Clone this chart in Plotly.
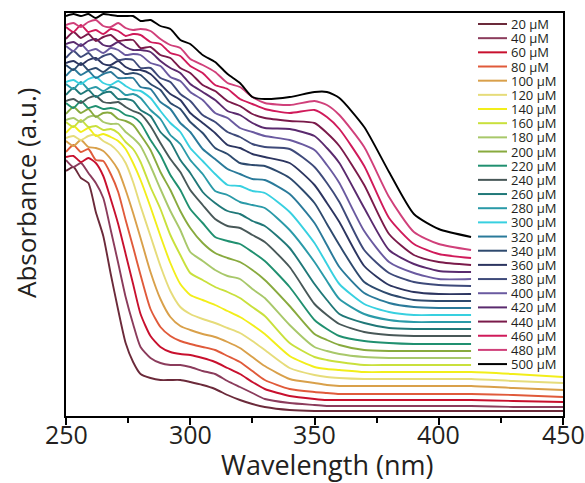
import plotly.graph_objects as go

# Wavelength sampling (nm) shared by all spectra; the upper spectra stop at 413 nm
wavelength_nm = [250, 253, 256, 259, 262, 265, 268, 271, 274, 277, 280, 284, 288, 292, 296,
                 300, 305, 310, 315, 320, 325, 330, 340, 350, 355, 360, 370, 380, 390,
                 400, 413, 430, 450]

# Offset absorbance spectra (a.u.), one list per concentration
abs_20uM = [2.43, 2.47, 2.36, 2.31, 2.02, 1.78, 1.40, 1.04, 0.71, 0.52, 0.40, 0.36, 0.34, 0.34, 0.34, 0.32, 0.29, 0.25, 0.19, 0.14, 0.10, 0.07, 0.04, 0.03, 0.03, 0.03, 0.03, 0.03, 0.03, 0.03, 0.03, 0.03, 0.03]
abs_40uM = [2.54, 2.47, 2.51, 2.41, 2.31, 2.16, 1.84, 1.51, 1.17, 0.90, 0.67, 0.56, 0.51, 0.49, 0.49, 0.47, 0.43, 0.40, 0.33, 0.27, 0.21, 0.15, 0.11, 0.09, 0.08, 0.08, 0.08, 0.08, 0.08, 0.08, 0.08, 0.07, 0.07]
abs_60uM = [2.57, 2.58, 2.52, 2.56, 2.51, 2.38, 2.15, 1.90, 1.60, 1.30, 1.00, 0.78, 0.67, 0.62, 0.60, 0.59, 0.56, 0.52, 0.46, 0.40, 0.32, 0.25, 0.18, 0.15, 0.14, 0.14, 0.14, 0.14, 0.14, 0.14, 0.14, 0.13, 0.12]
abs_80uM = [2.62, 2.69, 2.62, 2.65, 2.54, 2.53, 2.40, 2.22, 1.94, 1.67, 1.39, 1.05, 0.87, 0.78, 0.73, 0.70, 0.67, 0.64, 0.58, 0.52, 0.43, 0.34, 0.25, 0.22, 0.21, 0.20, 0.20, 0.20, 0.20, 0.20, 0.20, 0.19, 0.17]
abs_100uM = [2.73, 2.68, 2.74, 2.67, 2.66, 2.63, 2.55, 2.44, 2.24, 2.01, 1.76, 1.42, 1.15, 0.97, 0.88, 0.84, 0.80, 0.77, 0.72, 0.66, 0.57, 0.48, 0.35, 0.31, 0.29, 0.28, 0.28, 0.28, 0.28, 0.28, 0.28, 0.26, 0.24]
abs_120uM = [2.76, 2.78, 2.74, 2.78, 2.79, 2.73, 2.69, 2.62, 2.51, 2.32, 2.08, 1.78, 1.48, 1.23, 1.07, 1.00, 0.95, 0.91, 0.86, 0.81, 0.73, 0.64, 0.46, 0.39, 0.37, 0.36, 0.35, 0.35, 0.35, 0.35, 0.35, 0.33, 0.31]
abs_140uM = [2.81, 2.88, 2.82, 2.86, 2.78, 2.80, 2.77, 2.73, 2.65, 2.51, 2.34, 2.07, 1.78, 1.51, 1.30, 1.19, 1.14, 1.09, 1.03, 0.97, 0.89, 0.80, 0.58, 0.47, 0.45, 0.44, 0.42, 0.42, 0.42, 0.42, 0.42, 0.40, 0.37]
abs_160uM = [2.92, 2.87, 2.94, 2.87, 2.88, 2.84, 2.85, 2.81, 2.72, 2.65, 2.52, 2.27, 2.05, 1.79, 1.59, 1.41, 1.34, 1.27, 1.22, 1.16, 1.07, 0.98, 0.71, 0.57, 0.54, 0.52, 0.49, 0.49, 0.49, 0.49, 0.49]
abs_180uM = [2.94, 2.96, 2.92, 2.97, 2.98, 2.92, 2.90, 2.90, 2.82, 2.76, 2.68, 2.48, 2.25, 2.03, 1.84, 1.62, 1.53, 1.44, 1.38, 1.35, 1.25, 1.16, 0.89, 0.67, 0.63, 0.60, 0.57, 0.56, 0.56, 0.56, 0.56]
abs_200uM = [3.00, 3.07, 3.01, 3.05, 2.97, 3.01, 3.01, 2.95, 2.93, 2.89, 2.79, 2.64, 2.42, 2.24, 2.03, 1.86, 1.71, 1.61, 1.56, 1.52, 1.44, 1.34, 1.08, 0.80, 0.74, 0.69, 0.64, 0.63, 0.63, 0.63, 0.63]
abs_220uM = [3.11, 3.06, 3.13, 3.06, 3.08, 3.05, 3.06, 3.04, 2.99, 2.97, 2.91, 2.74, 2.59, 2.39, 2.24, 2.05, 1.91, 1.77, 1.73, 1.70, 1.62, 1.53, 1.27, 0.94, 0.85, 0.78, 0.73, 0.71, 0.70, 0.70, 0.70]
abs_240uM = [3.13, 3.15, 3.11, 3.16, 3.18, 3.12, 3.11, 3.12, 3.07, 3.03, 3.00, 2.88, 2.71, 2.55, 2.42, 2.24, 2.09, 1.95, 1.88, 1.86, 1.79, 1.72, 1.47, 1.10, 0.99, 0.90, 0.82, 0.79, 0.78, 0.78, 0.78]
abs_260uM = [3.19, 3.26, 3.20, 3.24, 3.17, 3.21, 3.22, 3.15, 3.15, 3.13, 3.04, 2.98, 2.82, 2.72, 2.54, 2.41, 2.22, 2.11, 2.03, 2.00, 1.93, 1.88, 1.66, 1.30, 1.14, 1.00, 0.91, 0.86, 0.85, 0.85, 0.85]
abs_280uM = [3.30, 3.25, 3.32, 3.25, 3.27, 3.23, 3.27, 3.25, 3.19, 3.20, 3.16, 3.04, 2.95, 2.79, 2.70, 2.54, 2.40, 2.23, 2.19, 2.12, 2.09, 2.06, 1.84, 1.52, 1.33, 1.15, 1.00, 0.94, 0.92, 0.92, 0.92]
abs_300uM = [3.32, 3.34, 3.30, 3.35, 3.37, 3.31, 3.29, 3.33, 3.28, 3.24, 3.23, 3.16, 3.03, 2.91, 2.82, 2.66, 2.53, 2.40, 2.29, 2.28, 2.23, 2.21, 2.02, 1.71, 1.50, 1.30, 1.10, 1.02, 0.99, 0.99, 0.99]
abs_320uM = [3.38, 3.45, 3.39, 3.43, 3.36, 3.40, 3.42, 3.36, 3.36, 3.36, 3.27, 3.25, 3.12, 3.05, 2.91, 2.82, 2.65, 2.55, 2.45, 2.40, 2.35, 2.34, 2.20, 1.91, 1.69, 1.47, 1.21, 1.11, 1.07, 1.06, 1.06]
abs_340uM = [3.49, 3.44, 3.51, 3.44, 3.46, 3.42, 3.47, 3.45, 3.40, 3.41, 3.39, 3.30, 3.24, 3.11, 3.05, 2.92, 2.81, 2.66, 2.60, 2.51, 2.49, 2.48, 2.36, 2.11, 1.90, 1.69, 1.32, 1.20, 1.14, 1.13, 1.13]
abs_360uM = [3.51, 3.53, 3.49, 3.54, 3.56, 3.50, 3.49, 3.53, 3.47, 3.44, 3.44, 3.40, 3.30, 3.20, 3.14, 3.01, 2.91, 2.81, 2.69, 2.66, 2.60, 2.57, 2.51, 2.29, 2.11, 1.92, 1.48, 1.29, 1.22, 1.20, 1.20]
abs_380uM = [3.56, 3.63, 3.57, 3.61, 3.54, 3.58, 3.60, 3.54, 3.55, 3.54, 3.46, 3.46, 3.36, 3.32, 3.20, 3.13, 2.99, 2.92, 2.82, 2.77, 2.70, 2.67, 2.65, 2.47, 2.31, 2.12, 1.64, 1.41, 1.32, 1.29, 1.28]
abs_400uM = [3.68, 3.63, 3.70, 3.63, 3.65, 3.61, 3.66, 3.64, 3.59, 3.60, 3.59, 3.51, 3.48, 3.37, 3.33, 3.22, 3.14, 3.01, 2.96, 2.86, 2.82, 2.78, 2.74, 2.64, 2.49, 2.31, 1.83, 1.52, 1.41, 1.35, 1.35]
abs_420uM = [3.70, 3.72, 3.68, 3.73, 3.75, 3.69, 3.68, 3.72, 3.67, 3.64, 3.64, 3.62, 3.53, 3.46, 3.41, 3.30, 3.22, 3.14, 3.03, 2.99, 2.91, 2.86, 2.85, 2.78, 2.66, 2.51, 2.06, 1.64, 1.50, 1.43, 1.42]
abs_440uM = [3.75, 3.82, 3.76, 3.80, 3.73, 3.77, 3.79, 3.73, 3.74, 3.74, 3.66, 3.67, 3.59, 3.56, 3.46, 3.41, 3.29, 3.23, 3.13, 3.08, 3.00, 2.96, 2.93, 2.91, 2.81, 2.68, 2.29, 1.80, 1.59, 1.52, 1.49]
abs_460uM = [3.87, 3.82, 3.89, 3.82, 3.84, 3.80, 3.85, 3.83, 3.78, 3.80, 3.79, 3.72, 3.70, 3.61, 3.58, 3.48, 3.41, 3.29, 3.25, 3.15, 3.10, 3.05, 3.01, 3.04, 2.97, 2.85, 2.48, 1.96, 1.70, 1.60, 1.56]
abs_480uM = [3.89, 3.91, 3.87, 3.92, 3.94, 3.88, 3.87, 3.91, 3.86, 3.84, 3.85, 3.83, 3.75, 3.69, 3.66, 3.55, 3.49, 3.42, 3.31, 3.27, 3.17, 3.11, 3.09, 3.13, 3.09, 2.99, 2.67, 2.17, 1.82, 1.70, 1.64]
abs_500uM = [3.98, 4.00, 3.98, 4.00, 3.96, 4.00, 3.99, 3.98, 3.98, 3.98, 3.93, 3.94, 3.88, 3.85, 3.74, 3.70, 3.59, 3.52, 3.40, 3.31, 3.17, 3.15, 3.17, 3.22, 3.22, 3.16, 2.87, 2.42, 2.00, 1.85, 1.77]

concentrations_uM = [20, 40, 60, 80, 100, 120, 140, 160, 180, 200, 220, 240, 260,
                     280, 300, 320, 340, 360, 380, 400, 420, 440, 460, 480, 500]

line_colors = ["#6b2a3a", "#8b3c5c", "#c8102e", "#e05a3a", "#d9a04a", "#e6dc7a",
               "#f2ee1a", "#c9e03c", "#a8c86a", "#88aa3e", "#209070", "#485858",
               "#207878", "#2a9aa8", "#38d0e0", "#2a7a9a", "#2e4a6e", "#2c3560",
               "#3e4a7a", "#6a5aa0", "#5a2a6e", "#7a1a4a", "#d01a5a", "#d0407a",
               "#000000"]

spectra = [abs_20uM, abs_40uM, abs_60uM, abs_80uM, abs_100uM, abs_120uM, abs_140uM,
           abs_160uM, abs_180uM, abs_200uM, abs_220uM, abs_240uM, abs_260uM,
           abs_280uM, abs_300uM, abs_320uM, abs_340uM, abs_360uM, abs_380uM,
           abs_400uM, abs_420uM, abs_440uM, abs_460uM, abs_480uM, abs_500uM]

x_tick_values = [250, 300, 350, 400, 450]
x_tick_labels = ["250", "300", "350", "400", "450"]

for conc, vals in zip(concentrations_uM, spectra):
    if len(vals) not in (31, 33):
        raise ValueError(f"{conc} uM spectrum has {len(vals)} points")

TEXT = "#231f20"
FONT = "Open Sans"

W, H = 585, 483
L, R, T, B = 66, 22, 13, 67
PW, PH = W - L - R, H - T - B


def px_x(px):
    return (px - L) / PW


def px_y(py):
    return (H - B - py) / PH


fig = go.Figure()
for conc, vals, col in zip(concentrations_uM, spectra, line_colors):
    fig.add_trace(go.Scatter(
        x=wavelength_nm[:len(vals)], y=vals, mode="lines",
        line=dict(color=col, width=1.9, shape="spline", smoothing=0.6),
        name=f"{conc} µM", showlegend=False, hoverinfo="skip"))

# legend panel drawn inside the plot area
shapes = [dict(type="rect", xref="paper", yref="paper", layer="above",
               x0=px_x(473), x1=px_x(561), y0=px_y(369), y1=px_y(15),
               fillcolor="white", line=dict(width=0))]
annotations = []
row_top, row_step = 24.0, 14.17
for k, (conc, col) in enumerate(zip(concentrations_uM, line_colors)):
    yk = px_y(row_top + row_step * k)
    shapes.append(dict(type="line", xref="paper", yref="paper", layer="above",
                       x0=px_x(478), x1=px_x(507), y0=yk, y1=yk,
                       line=dict(color=col, width=2)))
    annotations.append(dict(xref="paper", yref="paper", x=px_x(509), y=yk,
                            xanchor="left", yanchor="middle", showarrow=False,
                            text=f"{conc} µM", font=dict(family=FONT, size=13, color=TEXT)))

# x tick labels
for v, lab in zip(x_tick_values, x_tick_labels):
    annotations.append(dict(xref="x", yref="paper", x=v, y=px_y(434),
                            xanchor="center", yanchor="middle", showarrow=False,
                            text=lab, font=dict(family=FONT, size=25, color=TEXT)))

annotations.append(dict(xref="paper", yref="paper", x=px_x(327), y=px_y(464),
                        xanchor="center", yanchor="middle", showarrow=False,
                        text="Wavelength (nm)", font=dict(family=FONT, size=27, color=TEXT)))
annotations.append(dict(xref="paper", yref="paper", x=px_x(26), y=px_y(193),
                        xanchor="center", yanchor="middle", showarrow=False, textangle=-90,
                        text="Absorbance (a.u.)", font=dict(family=FONT, size=26, color=TEXT)))

fig.update_layout(
    width=W, height=H, margin=dict(l=L, r=R, t=T, b=B, pad=0),
    paper_bgcolor="white", plot_bgcolor="white",
    shapes=shapes, annotations=annotations, showlegend=False,
    xaxis=dict(range=[250, 450], tickvals=x_tick_values, showticklabels=False,
               ticks="outside", ticklen=7, tickwidth=2, tickcolor="black",
               minor=dict(tickvals=[275, 325, 375, 425], ticks="outside",
                          ticklen=5, tickwidth=2, tickcolor="black"),
               showline=True, linewidth=2, linecolor="black", mirror=True,
               showgrid=False, zeroline=False),
    yaxis=dict(range=[-0.02, 4.01], showticklabels=False, ticks="",
               showline=True, linewidth=2, linecolor="black", mirror=True,
               showgrid=False, zeroline=False),
)

fig.write_html("out.html")
